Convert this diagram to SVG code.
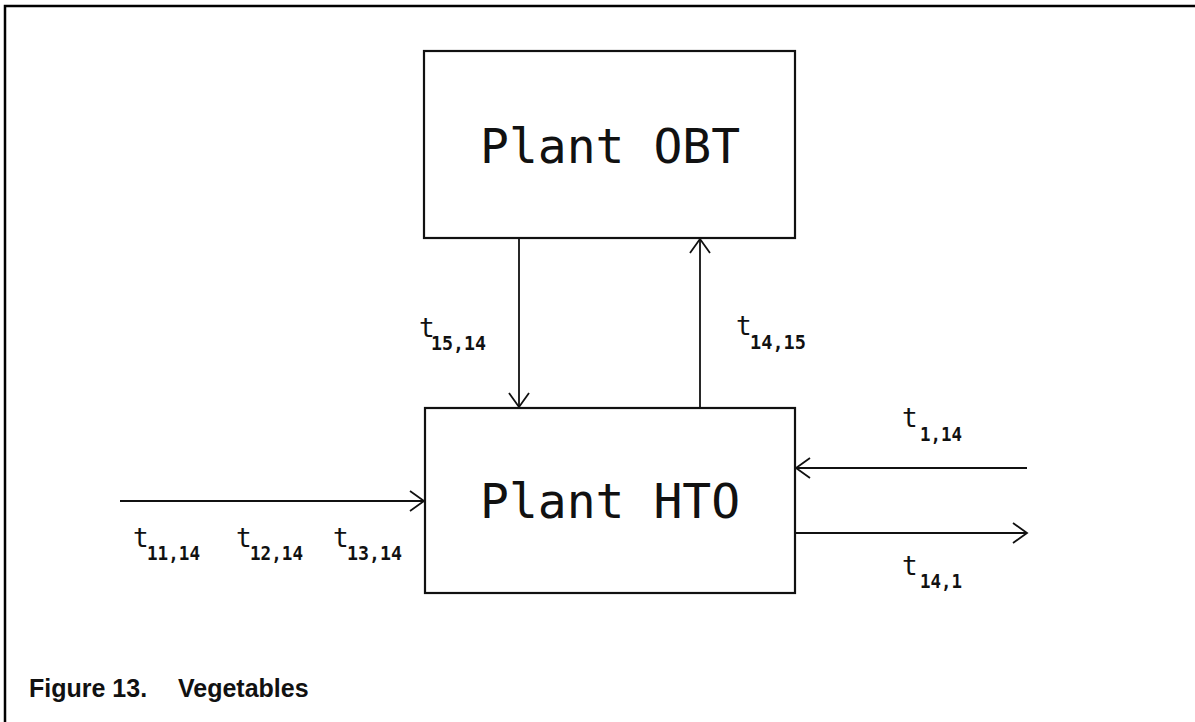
<svg xmlns="http://www.w3.org/2000/svg" width="1195" height="722" viewBox="0 0 1195 722">
  <style>
    .frame { stroke: #000; stroke-width: 2.5; fill: none; }
    .box { fill: #fff; stroke: #111; stroke-width: 2.2; }
    .name { font-family: "DejaVu Sans Mono", "Liberation Mono", monospace; font-size: 48px; fill: #111; }
    .wire { stroke: #111; stroke-width: 1.8; fill: none; }
    .t { font-family: "DejaVu Sans Mono", "Liberation Mono", monospace; font-size: 26px; fill: #111; }
    .sub { font-family: "DejaVu Sans Mono", "Liberation Mono", monospace; font-size: 19px; font-weight: bold; fill: #111; }
    .caption { font-family: "Liberation Sans", Arial, sans-serif; font-size: 25px; font-weight: bold; fill: #111; }
  </style>
  <defs>
    <marker id="head" viewBox="-16 -12 18 24" refX="0" refY="0" markerWidth="18" markerHeight="24" markerUnits="userSpaceOnUse" orient="auto">
      <path d="M-14,-10 L0,0 L-14,10" fill="none" stroke="#111" stroke-width="1.8"/>
    </marker>
  </defs>

  <rect width="1195" height="722" fill="#fff"/>

  <!-- page frame: top and left rules -->
  <path class="frame" d="M5,722 L5,6 L1195,6"/>

  <!-- connectors -->
  <g id="connectors">
    <line class="wire" x1="519" y1="238" x2="519" y2="407" marker-end="url(#head)"/>
    <line class="wire" x1="700" y1="408" x2="700" y2="239" marker-end="url(#head)"/>
    <line class="wire" x1="120" y1="501" x2="424" y2="501" marker-end="url(#head)"/>
    <line class="wire" x1="1027" y1="468" x2="796" y2="468" marker-end="url(#head)"/>
    <line class="wire" x1="795" y1="533" x2="1027" y2="533" marker-end="url(#head)"/>
  </g>

  <g id="plant-obt">
    <rect class="box" x="424" y="51" width="371" height="187"/>
    <text class="name" x="480" y="163">Plant OBT</text>
  </g>

  <g id="plant-hto">
    <rect class="box" x="425" y="408" width="370" height="185"/>
    <text class="name" x="480" y="518">Plant HTO</text>
  </g>

  <!-- transfer rate labels -->
  <g id="labels">
    <text><tspan class="t" x="419" y="337">t</tspan><tspan class="sub" x="431" y="350" textLength="55" lengthAdjust="spacingAndGlyphs">15,14</tspan></text>
    <text><tspan class="t" x="736" y="335">t</tspan><tspan class="sub" x="750" y="349" textLength="56" lengthAdjust="spacingAndGlyphs">14,15</tspan></text>
    <text><tspan class="t" x="133" y="547">t</tspan><tspan class="sub" x="147" y="560" textLength="53" lengthAdjust="spacingAndGlyphs">11,14</tspan></text>
    <text><tspan class="t" x="236" y="547">t</tspan><tspan class="sub" x="250" y="560" textLength="53" lengthAdjust="spacingAndGlyphs">12,14</tspan></text>
    <text><tspan class="t" x="333" y="547">t</tspan><tspan class="sub" x="347" y="560" textLength="55" lengthAdjust="spacingAndGlyphs">13,14</tspan></text>
    <text><tspan class="t" x="902" y="427">t</tspan><tspan class="sub" x="920" y="441" textLength="42" lengthAdjust="spacingAndGlyphs">1,14</tspan></text>
    <text><tspan class="t" x="902" y="575">t</tspan><tspan class="sub" x="920" y="588" textLength="42" lengthAdjust="spacingAndGlyphs">14,1</tspan></text>
  </g>

  <text class="caption" x="29" y="697">Figure 13.<tspan x="178">Vegetables</tspan></text>
</svg>
